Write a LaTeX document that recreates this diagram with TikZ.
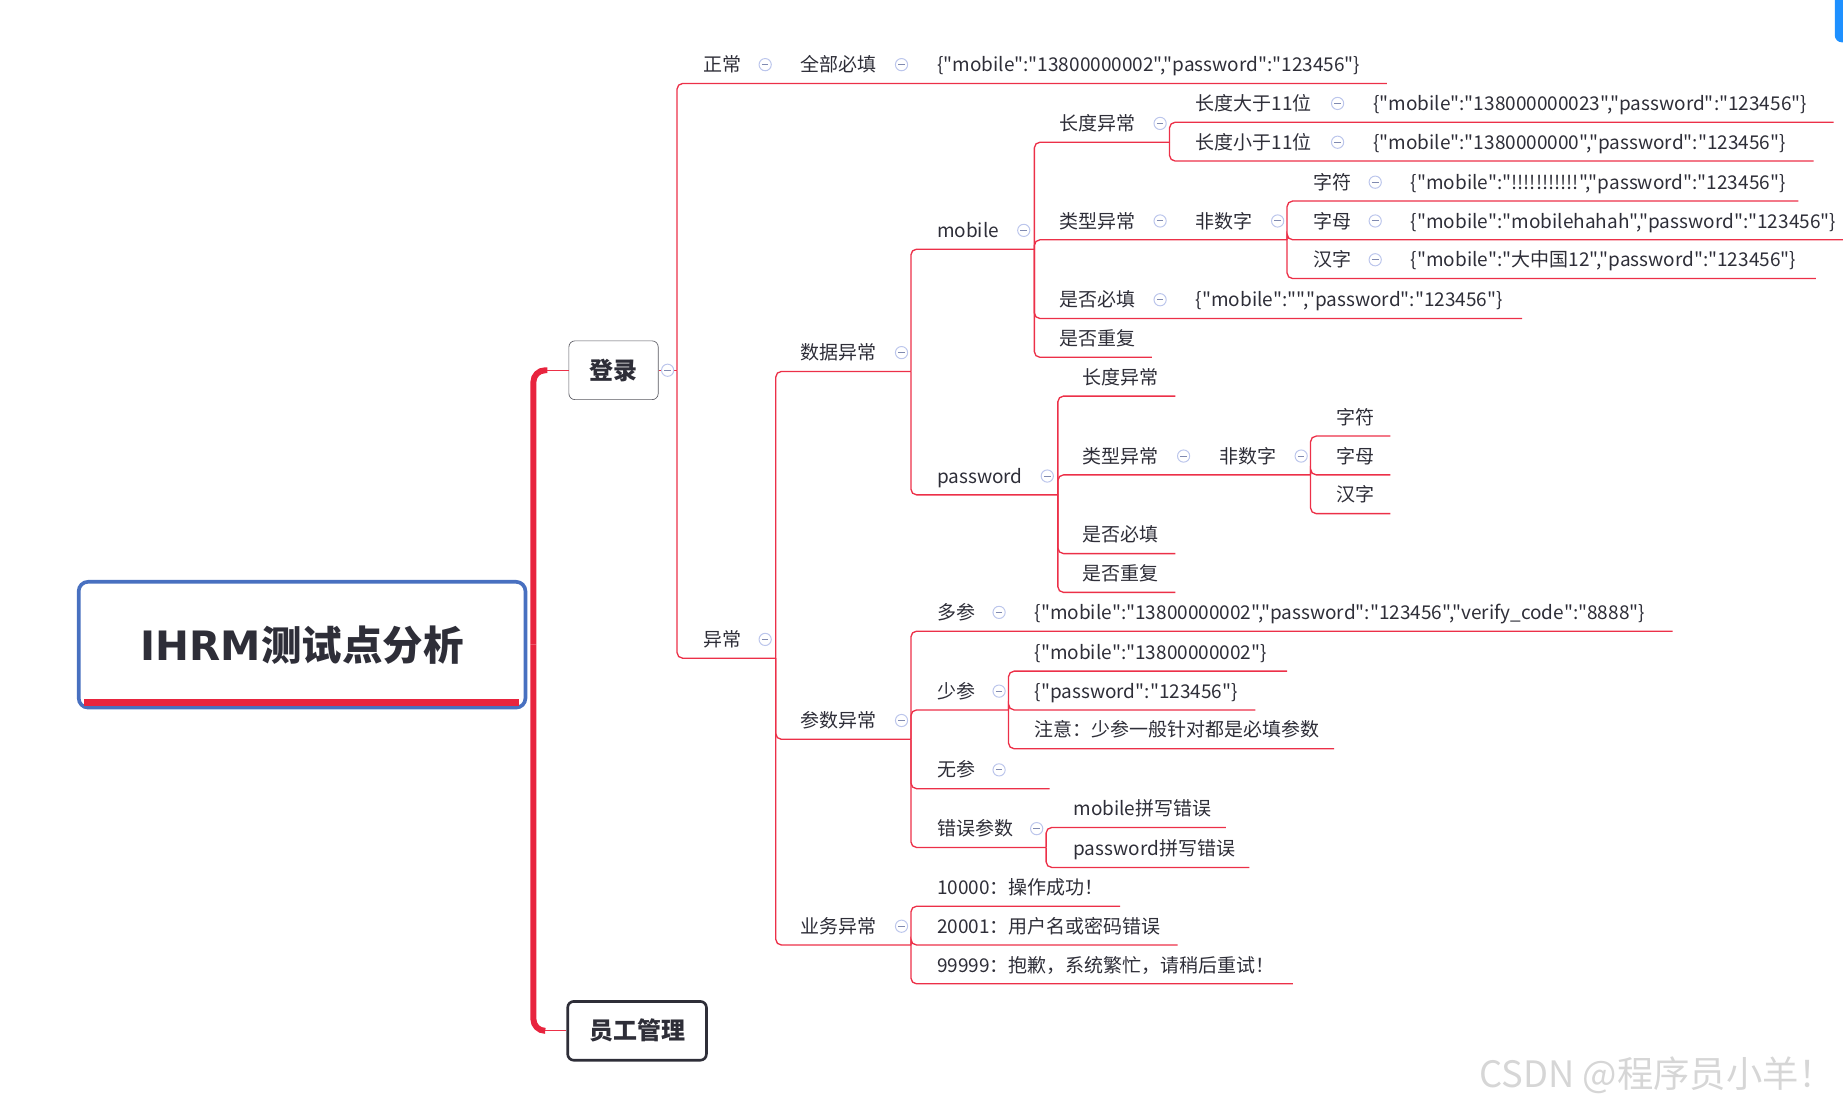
\documentclass[tikz,border=0pt]{standalone}
\usepackage{fontspec}
\setmainfont{Noto Sans CJK SC}[Ligatures=TeXOff]
\newfontfamily\titlelatin{DejaVu Sans}
\usepackage{tikz}
\usetikzlibrary{positioning}
\usepackage{xcolor}
\definecolor{linered}{RGB}{236,48,72}
\definecolor{trunkred}{RGB}{232,36,62}
\definecolor{rootblue}{RGB}{72,112,192}
\definecolor{inkgray}{RGB}{46,46,56}
\definecolor{foldring}{RGB}{188,198,236}
\definecolor{foldbar}{RGB}{128,138,176}
\definecolor{wmgray}{RGB}{214,214,214}
\definecolor{uiblue}{RGB}{30,144,255}

\begin{document}
\begin{tikzpicture}[
  x=0.025cm, y=-0.025cm,
  topic/.style={anchor=base west, inner sep=0pt, text=inkgray, font=\fontsize{11.5}{14}\selectfont},
  fold/.style={circle, draw=foldring, fill=white, line width=0.6pt, minimum size=0.26cm, inner sep=0pt,
    path picture={\draw[foldbar, line width=0.6pt] ([xshift=-0.07cm]path picture bounding box.center) -- ([xshift=0.07cm]path picture bounding box.center);}},
  branch/.style={draw=linered, line width=0.8pt, rounded corners=0.12cm},
  trunk/.style={draw=trunkred, line width=3.6pt, rounded corners=0.25cm},
  subbox/.style={draw=inkgray!80, fill=white, rounded corners=0.13cm, inner sep=0pt, minimum height=1.25cm, text=inkgray, font=\fontsize{14.5}{17}\selectfont\bfseries},
  rootbox/.style={draw=rootblue, fill=white, line width=2.2pt, rounded corners=0.2cm, minimum width=9.5cm, minimum height=2.675cm, text=inkgray, font=\fontsize{24.5}{28}\selectfont\bfseries},
  wmark/.style={text=wmgray, inner sep=0pt, font=\fontsize{22}{25}\selectfont},
]
\useasboundingbox (0,0) rectangle (1568,942);

% Root and the two main topics
\node[rootbox] (root) at (257,548.5) {{\titlelatin\bfseries IHRM}测试点分析};
\fill[trunkred] ([shift={(0.15cm,0.075cm)}]root.south west) rectangle ([shift={(-0.175cm,0.225cm)}]root.south east);
\node[subbox, minimum width=1.9cm] (login) at (522,315) {登录};
\node[subbox, minimum width=2.95cm, line width=1.6pt, draw=inkgray] (staff) at (542,877) {员工管理};

\coordinate (hub) at ([xshift=0.13cm]root.east);
\draw[trunk] (hub) |- ([xshift=-0.45cm]login.west);
\draw[trunk] (hub) |- ([xshift=-0.45cm]staff.west);
\draw[branch] ([xshift=-0.45cm]login.west) -- (login.west);
\draw[branch] ([xshift=-0.45cm]staff.west) -- (staff.west);

% Login: normal case
\coordinate (login-e) at (576,315);
\draw[branch] (login.east) -- (login-e);
\node[topic] (normal) at (598,61) {正常};
\node[topic] (allreq) at (681,61) {全部必填};
\node[topic] (okjson) at (797,61) {\{"mobile":"13800000002","password":"123456"\}};
\coordinate (normal-e) at (660,71);
\coordinate (allreq-e) at (775,71);
\coordinate (okjson-e) at (1180,71);
\draw[branch] (login-e) |- (normal-e) -- (allreq-e) -- (okjson-e);

% Login: abnormal cases
\node[topic] (abnormal) at (598,550) {异常};
\node[topic] (data) at (681,306) {数据异常};
\node[topic] (param) at (681,619) {参数异常};
\node[topic] (biz) at (681,794) {业务异常};
\coordinate (abnormal-e) at (660,560);
\coordinate (data-e) at (775,316);
\coordinate (param-e) at (775,629);
\coordinate (biz-e) at (775,804);
\draw[branch] (login-e) |- (abnormal-e);
\draw[branch] (abnormal-e) |- (data-e);
\draw[branch] (abnormal-e) |- (param-e);
\draw[branch] (abnormal-e) |- (biz-e);

% Data errors: mobile
\node[topic] (mob) at (797,202) {mobile};
\node[topic] (mlen) at (901,111) {长度异常};
\node[topic] (mlong) at (1017,94) {长度大于11位};
\node[topic] (mlongj) at (1168,94) {\{"mobile":"138000000023","password":"123456"\}};
\node[topic] (mshort) at (1017,127) {长度小于11位};
\node[topic] (mshortj) at (1168,127) {\{"mobile":"1380000000","password":"123456"\}};
\node[topic] (mtype) at (901,194) {类型异常};
\node[topic] (mnon) at (1017,194) {非数字};
\node[topic] (mchar) at (1117,161) {字符};
\node[topic] (mcharj) at (1200,161) {\{"mobile":"!!!!!!!!!!!","password":"123456"\}};
\node[topic] (mletter) at (1117,194) {字母};
\node[topic] (mletterj) at (1200,194) {\{"mobile":"mobilehahah","password":"123456"\}};
\node[topic] (mhan) at (1117,227) {汉字};
\node[topic] (mhanj) at (1200,227) {\{"mobile":"大中国12","password":"123456"\}};
\node[topic] (mreq) at (901,261) {是否必填};
\node[topic] (mreqj) at (1017,261) {\{"mobile":"","password":"123456"\}};
\node[topic] (mdup) at (901,294) {是否重复};
\coordinate (mob-e) at (880,212);
\coordinate (mlen-e) at (995,121);
\coordinate (mlong-e) at (1160,104);
\coordinate (mlongj-e) at (1560,104);
\coordinate (mshort-e) at (1160,137);
\coordinate (mshortj-e) at (1543,137);
\coordinate (mtype-e) at (995,204);
\coordinate (mnon-e) at (1095,204);
\coordinate (mchar-e) at (1190,171);
\coordinate (mcharj-e) at (1530,171);
\coordinate (mletter-e) at (1190,204);
\coordinate (mletterj-e) at (1568,204);
\coordinate (mhan-e) at (1190,237);
\coordinate (mhanj-e) at (1545,237);
\coordinate (mreq-e) at (995,271);
\coordinate (mreqj-e) at (1295,271);
\coordinate (mdup-e) at (980,304);
\draw[branch] (data-e) |- (mob-e);
\draw[branch] (mob-e) |- (mlen-e);
\draw[branch] (mlen-e) |- (mlong-e) -- (mlongj-e);
\draw[branch] (mlen-e) |- (mshort-e) -- (mshortj-e);
\draw[branch] (mob-e) |- (mtype-e) -- (mnon-e);
\draw[branch] (mnon-e) |- (mchar-e) -- (mcharj-e);
\draw[branch] (mnon-e) |- (mletter-e) -- (mletterj-e);
\draw[branch] (mnon-e) |- (mhan-e) -- (mhanj-e);
\draw[branch] (mob-e) |- (mreq-e) -- (mreqj-e);
\draw[branch] (mob-e) |- (mdup-e);

% Data errors: password
\node[topic] (pwd) at (797,411) {password};
\node[topic] (plen) at (921,327) {长度异常};
\node[topic] (ptype) at (921,394) {类型异常};
\node[topic] (pnon) at (1037,394) {非数字};
\node[topic] (pchar) at (1137,361) {字符};
\node[topic] (pletter) at (1137,394) {字母};
\node[topic] (phan) at (1137,427) {汉字};
\node[topic] (preq) at (921,461) {是否必填};
\node[topic] (pdup) at (921,494) {是否重复};
\coordinate (pwd-e) at (900,421);
\coordinate (plen-e) at (1000,337);
\coordinate (ptype-e) at (1015,404);
\coordinate (pnon-e) at (1115,404);
\coordinate (pchar-e) at (1183,371);
\coordinate (pletter-e) at (1183,404);
\coordinate (phan-e) at (1183,437);
\coordinate (preq-e) at (1000,471);
\coordinate (pdup-e) at (1000,504);
\draw[branch] (data-e) |- (pwd-e);
\draw[branch] (pwd-e) |- (plen-e);
\draw[branch] (pwd-e) |- (ptype-e) -- (pnon-e);
\draw[branch] (pnon-e) |- (pchar-e);
\draw[branch] (pnon-e) |- (pletter-e);
\draw[branch] (pnon-e) |- (phan-e);
\draw[branch] (pwd-e) |- (preq-e);
\draw[branch] (pwd-e) |- (pdup-e);

% Parameter errors
\node[topic] (more) at (797,527) {多参};
\node[topic] (morej) at (880,527) {\{"mobile":"13800000002","password":"123456","verify\_code":"8888"\}};
\node[topic] (less) at (797,594) {少参};
\node[topic] (lessm) at (880,561) {\{"mobile":"13800000002"\}};
\node[topic] (lessp) at (880,594) {\{"password":"123456"\}};
\node[topic] (lessn) at (880,627) {注意：少参一般针对都是必填参数};
\node[topic] (none) at (797,661) {无参};
\node[topic] (wrong) at (797,711) {错误参数};
\node[topic] (wrongm) at (913,694) {mobile拼写错误};
\node[topic] (wrongp) at (913,728) {password拼写错误};
\coordinate (more-e) at (870,537);
\coordinate (morej-e) at (1423,537);
\coordinate (less-e) at (858,604);
\coordinate (lessm-e) at (1095,571);
\coordinate (lessp-e) at (1068,604);
\coordinate (lessn-e) at (1135,637);
\coordinate (none-e) at (893,671);
\coordinate (wrong-e) at (890,721);
\coordinate (wrongm-e) at (1043,704);
\coordinate (wrongp-e) at (1063,738);
\draw[branch] (param-e) |- (more-e) -- (morej-e);
\draw[branch] (param-e) |- (less-e);
\draw[branch] (less-e) |- (lessm-e);
\draw[branch] (less-e) |- (lessp-e);
\draw[branch] (less-e) |- (lessn-e);
\draw[branch] (param-e) |- (none-e);
\draw[branch] (param-e) |- (wrong-e);
\draw[branch] (wrong-e) |- (wrongm-e);
\draw[branch] (wrong-e) |- (wrongp-e);

% Business errors
\node[topic] (ok) at (797,761) {10000：操作成功！};
\node[topic] (err) at (797,794) {20001：用户名或密码错误};
\node[topic] (busy) at (797,827) {99999：抱歉，系统繁忙，请稍后重试！};
\coordinate (ok-e) at (953,771);
\coordinate (err-e) at (1002,804);
\coordinate (busy-e) at (1100,837);
\draw[branch] (biz-e) |- (ok-e);
\draw[branch] (biz-e) |- (err-e);
\draw[branch] (biz-e) |- (busy-e);

% Collapse buttons
\node[fold] (login-f) at (568,315) {};
\node[fold] (normal-f) at (651,55) {};
\node[fold] (allreq-f) at (767,55) {};
\node[fold] (abnormal-f) at (651,544) {};
\node[fold] (data-f) at (767,300) {};
\node[fold] (param-f) at (767,613) {};
\node[fold] (biz-f) at (767,788) {};
\node[fold] (mob-f) at (871,196) {};
\node[fold] (pwd-f) at (891,405) {};
\node[fold] (mlen-f) at (987,105) {};
\node[fold] (mlong-f) at (1138,88) {};
\node[fold] (mshort-f) at (1138,121) {};
\node[fold] (mtype-f) at (987,188) {};
\node[fold] (mnon-f) at (1087,188) {};
\node[fold] (mchar-f) at (1170,155) {};
\node[fold] (mletter-f) at (1170,188) {};
\node[fold] (mhan-f) at (1170,221) {};
\node[fold] (mreq-f) at (987,255) {};
\node[fold] (ptype-f) at (1007,388) {};
\node[fold] (pnon-f) at (1107,388) {};
\node[fold] (more-f) at (850,521) {};
\node[fold] (less-f) at (850,588) {};
\node[fold] (none-f) at (850,655) {};
\node[fold] (wrong-f) at (882,705) {};

% Screen edge and watermark
\fill[uiblue, rounded corners=0.15cm] (1561,-10) rectangle (1580,36);
\node[wmark] (mark) at (1410,915) {CSDN @程序员小羊！};

\end{tikzpicture}
\end{document}
